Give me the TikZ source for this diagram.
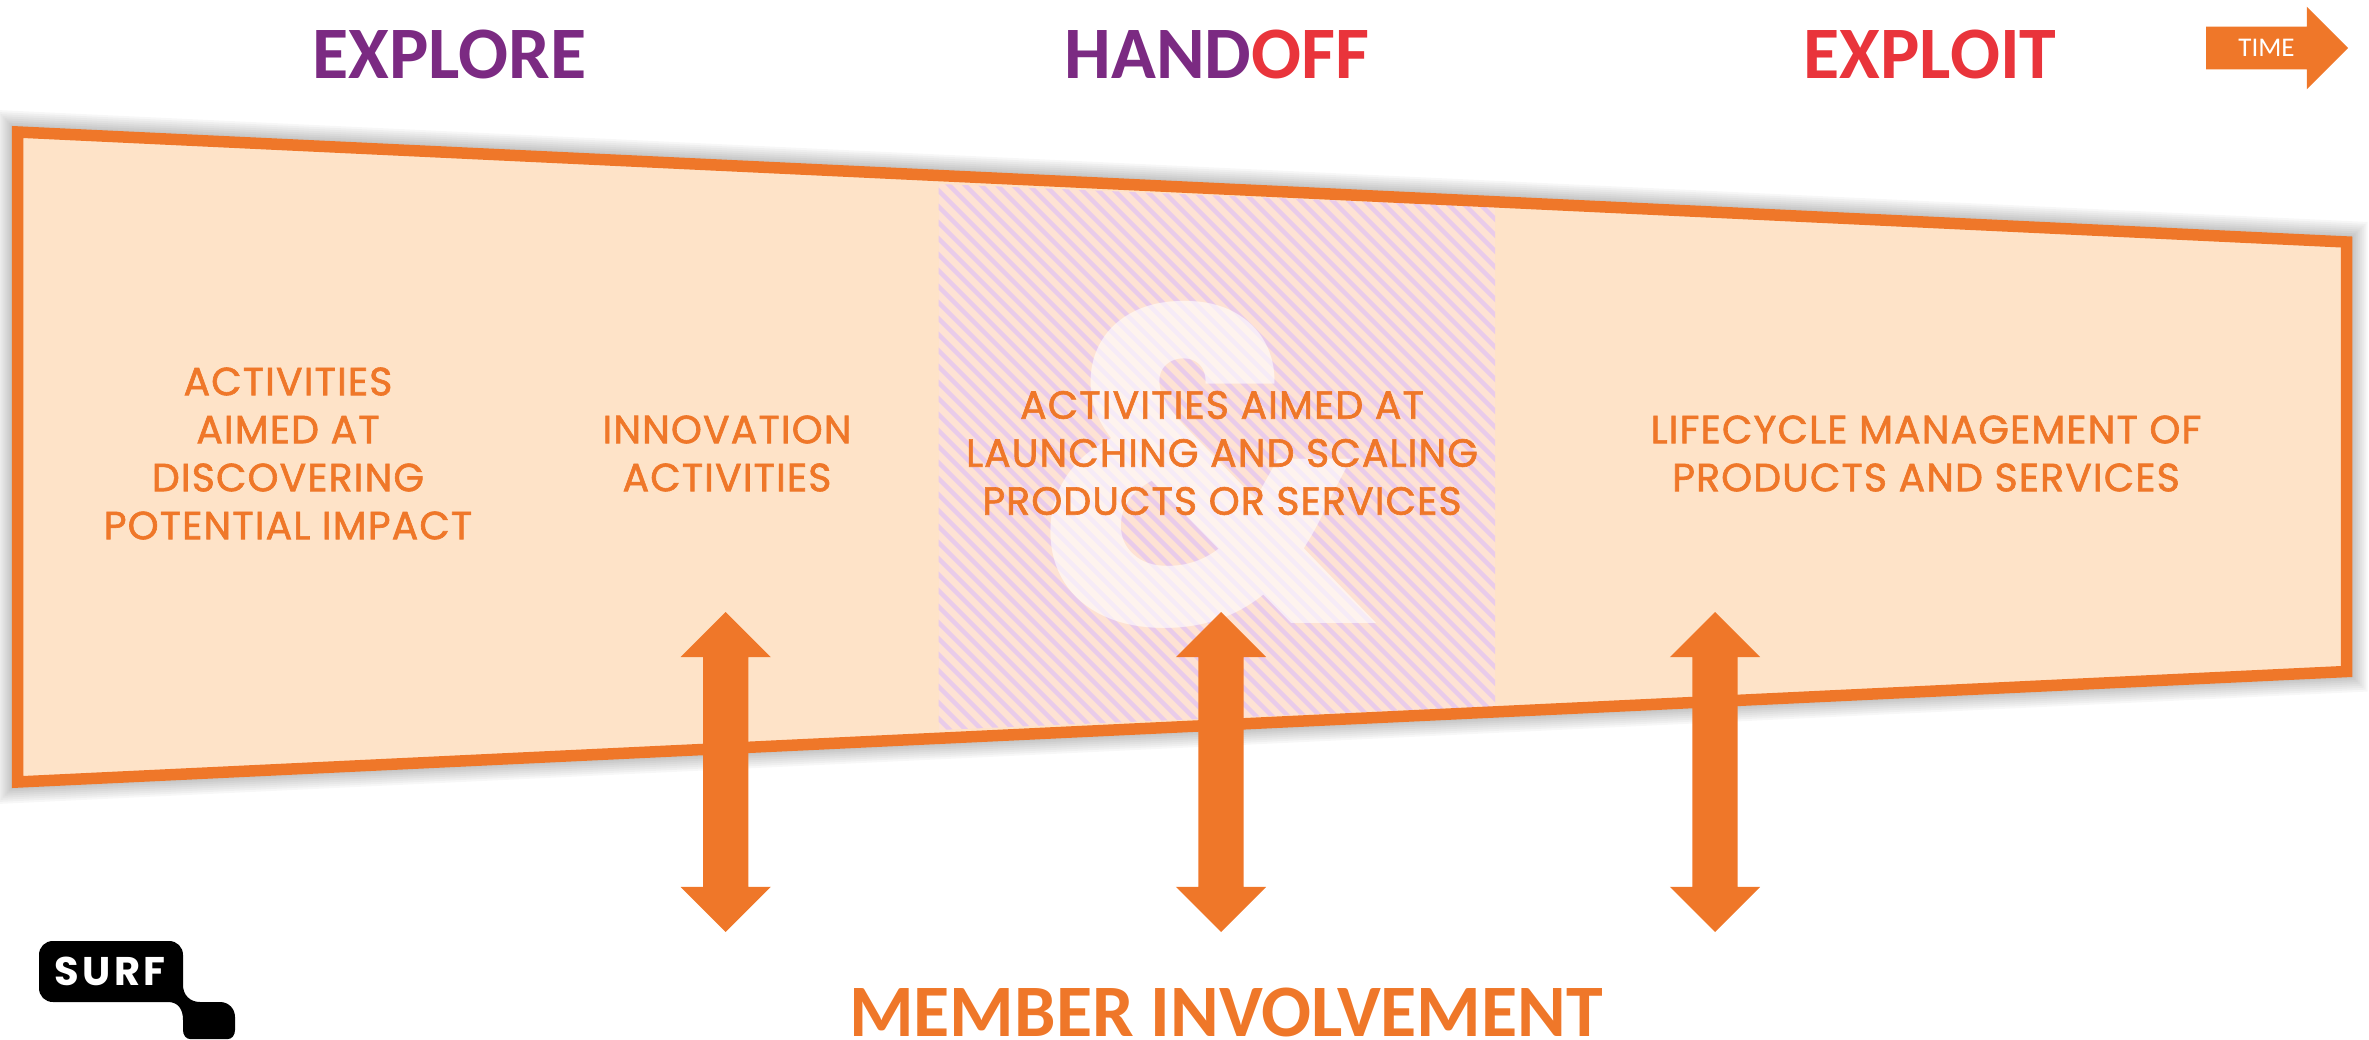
\documentclass[tikz,border=0pt]{standalone}
\usepackage{fontspec}
\setmainfont{Carlito}
\newfontfamily\bodyfont[FakeBold=1.6, LetterSpace=3]{Poppins}
\newfontfamily\ampfont{Poppins}
\newfontfamily\logofont[LetterSpace=8]{Poppins}
\usetikzlibrary{shapes.arrows}
\definecolor{surforange}{HTML}{EF7729}
\definecolor{surfpurple}{HTML}{7B2A82}
\definecolor{surfred}{HTML}{E9343B}
\definecolor{panelfill}{HTML}{FEE3C8}
\definecolor{hatchbase}{HTML}{FEE2D4}
\definecolor{hatchline}{HTML}{E9CBEA}
\tikzset{
    phase/.style={inner sep=0pt, font=\fontsize{74}{74}\selectfont\bfseries},
    activity/.style={inner sep=0pt, align=center, text=surforange, font=\bodyfont\fontsize{39.3}{48}\selectfont},
    involve/.style={shape=double arrow, fill=surforange, inner xsep=0pt, inner ysep=22.5pt, rotate=90, minimum height=320pt,
        minimum width=90pt, double arrow head extend=22.5pt, double arrow head indent=0pt, double arrow tip angle=90},
}
\begin{document}
\begin{tikzpicture}[x=1pt, y=-1pt]
    \useasboundingbox (0,0) rectangle (2369,1039);
    \coordinate (nw) at (17.5,132);
    \coordinate (ne) at (2346.5,242);
    \coordinate (se) at (2346.5,671.5);
    \coordinate (sw) at (17.5,782);

    \foreach \w in {14,18,22,26,30,34,38,42}
        \draw[black, opacity=0.03, line width=\w pt, line join=miter] (nw) -- (ne) -- (se) -- (sw) -- cycle;
    \fill[panelfill] (nw) -- (ne) -- (se) -- (sw) -- cycle;

    \begin{scope}
        \clip (938.5,184) -- (1495,207) -- (1495,706.5) -- (938.5,730) -- cycle;
        \fill[hatchbase] (938.5,184) rectangle (1495,730);
        \foreach \k in {-36,...,35}
            \draw[hatchline, line width=4.5pt] (900,{900-748+16*\k}) -- (1500,{1500-748+16*\k});
    \end{scope}
    \node[inner sep=0pt, xscale=0.95, text=white, text opacity=0.62, font=\ampfont\bfseries\fontsize{450}{450}\selectfont] (amp) at (1206.5,465) {\&};

    \draw[surforange, line width=11.5pt, line join=miter] (nw) -- (ne) -- (se) -- (sw) -- cycle;

    \node[phase, text=surfpurple] (explore) at (449.5,54) {EXPLORE};
    \node[phase, text=surfpurple] (handoff) at (1217,54) {HAND\textcolor{surfred}{OFF}};
    \node[phase, text=surfred] (exploit) at (1930,54) {EXPLOIT};
    \node[shape=single arrow, fill=surforange, text=white, inner xsep=0pt, inner ysep=12.5pt, anchor=tail, minimum height=142pt, minimum width=82pt,
        single arrow head extend=20pt, single arrow head indent=0pt, single arrow tip angle=90, font=\fontsize{27}{27}\selectfont] (time) at (2206,48) {TIME};

    \node[activity] (discover) at (288,453.5) {ACTIVITIES\\AIMED AT\\DISCOVERING\\POTENTIAL IMPACT};
    \node[activity] (innovate) at (727,453.5) {INNOVATION\\ACTIVITIES};
    \node[activity] (launch) at (1222,453) {ACTIVITIES AIMED AT\\LAUNCHING AND SCALING\\PRODUCTS OR SERVICES};
    \node[activity] (lifecycle) at (1926,453.5) {LIFECYCLE MANAGEMENT OF\\PRODUCTS AND SERVICES};

    \node[involve] (arrowa) at (725.7,772) {};
    \node[involve] (arrowb) at (1221,772) {};
    \node[involve] (arrowc) at (1715,772) {};

    \node[phase, text=surforange] (member) at (1226,1012) {MEMBER INVOLVEMENT};

    \fill[black] (53,941) -- (169,941) .. controls (177,941) and (183,947) .. (183,955) -- (183,985)
        .. controls (183,995) and (190,1002) .. (200,1002) -- (220,1002) .. controls (229,1002) and (235,1009) .. (235,1017)
        -- (235,1030) .. controls (235,1035) and (232,1039) .. (228,1039) -- (190,1039) .. controls (186,1039) and (183,1035) .. (183,1030)
        -- (183,1020) .. controls (183,1009) and (178,1002) .. (168,1002) -- (53,1002)
        .. controls (45,1002) and (39,996) .. (39,988) -- (39,955) .. controls (39,947) and (45,941) .. (53,941) -- cycle;
    \node[inner sep=0pt, text=white, font=\logofont\bfseries\fontsize{40}{40}\selectfont] (surf) at (110,971.5) {SURF};
\end{tikzpicture}
\end{document}
